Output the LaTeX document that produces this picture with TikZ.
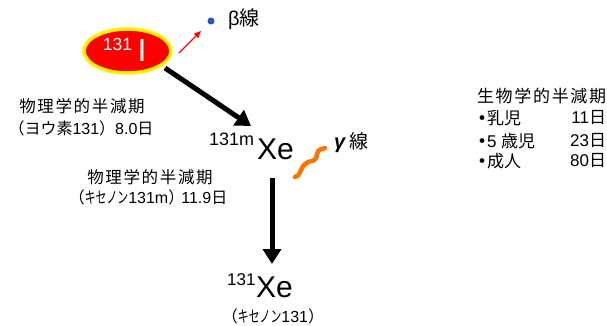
\documentclass[tikz,border=0pt]{standalone}
\usepackage{fontspec}
\usepackage{graphicx}
\usetikzlibrary{arrows.meta,shapes.geometric}
\setmainfont{Liberation Sans}
\newfontfamily\cj{Noto Sans CJK JP}
\newfontfamily\cjs{Noto Sans CJK JP}[LetterSpace=10]
\newcommand{\fs}[1]{\fontsize{#1pt}{#1pt}\selectfont}
\newcommand{\nar}[1]{\scalebox{0.68}[1]{\cj #1}}
\newcommand{\bul}{\makebox[10pt][c]{\cj\bfseries ・}}
\definecolor{dotblue}{RGB}{40,80,210}
\tikzset{
  x=1pt,y=-1pt,
  lab/.style={inner sep=0pt,outer sep=0pt,font=\fs{16}},
  rowlab/.style={inner sep=0pt,outer sep=0pt,font=\fs{17}},
  bigel/.style={line width=5pt,black,-{Triangle[length=15pt,width=18pt]}},
  isotope/.style={inner sep=0pt,font=\fs{30}},
  sup/.style={inner sep=0pt,font=\fs{18}}
}
\begin{document}
\begin{tikzpicture}
\useasboundingbox (0,0) rectangle (607,326);
\node[ellipse,draw=yellow,fill=red,line width=3.5pt,minimum width=87pt,minimum height=44pt,inner sep=0pt] (iodine) at (127.5,51) {};
\node[inner sep=0pt,white,font=\fs{17.5}] (i131) at (117.5,44) {131};
\node[inner sep=0pt,white,font=\fs{32}] (isym) at (142,50) {I};
\coordinate (redstart) at (179,53);
\coordinate (redend) at (201,31);
\draw[red,line width=1.1pt,-{Triangle[length=7pt,width=6pt]}] (redstart) -- (redend);
\node[circle,fill=dotblue,inner sep=0pt,minimum size=7pt] (dot) at (211,21) {};
\node[lab,anchor=west,font=\fs{20}] (beta) at (228,19) {β{\cj 線}};
\coordinate (a1s) at (165,68);
\coordinate (a1e) at (251,126);
\draw[bigel] (a1s) -- (a1e);
\node[sup,anchor=base west] (m131) at (209,146) {131m};
\node[isotope,anchor=base west] (xem) at (257,159) {Xe};
\coordinate (a2s) at (272,178);
\coordinate (a2e) at (272,264);
\draw[bigel] (a2s) -- (a2e);
\draw[orange!90!red,line width=4.5pt,line cap=round] (295,177) .. controls (301,176) and (299,170) .. (305,164) .. controls (310,159) and (316,164) .. (317,154) .. controls (318,149) and (322,149) .. (325,148);
\node[lab,anchor=base west,font=\fs{20}] (gamma) at (334,148) {\textit{\textbf{γ}}\hspace{3pt}{\cj\fs{19}線}};
\node[lab,font=\fs{16.5}\cjs] (p1) at (82,106) {物理学的半減期};
\node[lab] (p2) at (81,128) {{\cj（ヨウ素}131{\cj）}8.0{\cj 日}};
\node[lab,font=\fs{16.5}\cjs] (p3) at (150,177) {物理学的半減期};
\node[lab] (p4) at (148,197) {{\cj （}\nar{キセノン}131m{\cj ）}\hspace{-3pt}11.9{\cj 日}};
\node[sup,anchor=base west,font=\fs{17}] (x131) at (227,285) {131};
\node[isotope,anchor=base west] (xe) at (256,297) {Xe};
\node[lab] (p5) at (273,316) {{\cj （}\nar{キセノン}131{\cj ）}};
\node[lab,anchor=west,font=\fs{17}\cjs] (b0) at (477,96) {生物学的半減期};
\node[rowlab,anchor=west] (b1) at (477,118) {\bul{\cj 乳児}};
\node[rowlab,anchor=east] (b1v) at (606,118) {11{\cj 日}};
\node[rowlab,anchor=west] (b2) at (477,141) {\bul 5 {\cj 歳児}};
\node[rowlab,anchor=east] (b2v) at (606,141) {23{\cj 日}};
\node[rowlab,anchor=west] (b3) at (477,161) {\bul{\cj 成人}};
\node[rowlab,anchor=east] (b3v) at (606,161) {80{\cj 日}};
\end{tikzpicture}
\end{document}
